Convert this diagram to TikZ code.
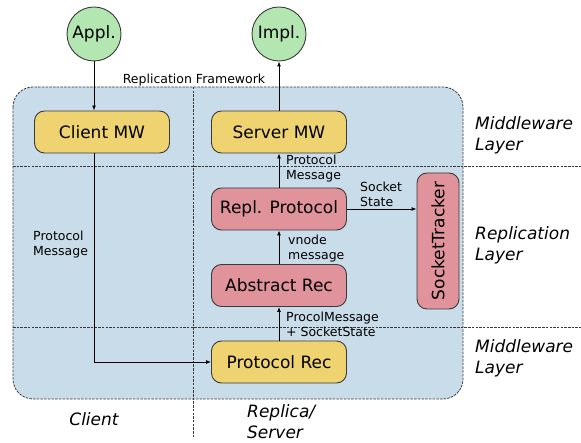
\documentclass[tikz,border=0pt]{standalone}
\usepackage{fontspec}
\setmainfont{DejaVu Sans}
\usetikzlibrary{arrows.meta}
\definecolor{frameblue}{HTML}{C9DCE9}
\definecolor{mwyellow}{HTML}{EED370}
\definecolor{replpink}{HTML}{E0939B}
\definecolor{appgreen}{HTML}{B3E6B1}
\definecolor{edgegray}{HTML}{3A3A3A}
\tikzset{
  mainfont/.style={font=\fontsize{17}{20}\selectfont},
  smallfont/.style={font=\fontsize{12.5}{15}\selectfont},
  layerfont/.style={font=\fontsize{17}{21}\selectfont\itshape},
  box/.style={draw=edgegray, line width=0.9pt, rounded corners=10pt,
    minimum width=135pt, minimum height=42pt, inner sep=0pt, mainfont},
  mwbox/.style={box, fill=mwyellow},
  rpbox/.style={box, fill=replpink},
  endpoint/.style={circle, draw=edgegray, line width=0.9pt, fill=appgreen,
    minimum size=54pt, inner sep=0pt, mainfont},
  divider/.style={draw=edgegray, line width=0.8pt, dash pattern=on 2.5pt off 1.2pt},
  arr/.style={draw=black, line width=0.9pt, -{Latex[length=5pt,width=4pt]}},
  note/.style={smallfont, align=left, inner sep=0pt, anchor=north west},
  layer/.style={layerfont, align=left, inner sep=0pt, anchor=north west},
}
\begin{document}
\begin{tikzpicture}[x=1pt,y=-1pt]
\useasboundingbox (0,0) rectangle (581,443);

% framework area and layer/side dividers
\path[divider, fill=frameblue, rounded corners=20pt] (13,87) rectangle (463,399);
\path[divider] (13,166) -- (581,166);
\path[divider] (13,327) -- (581,327);
\path[divider] (193,87) -- (193,438);

\node[smallfont, anchor=base, inner sep=0pt] (fw) at (194,84) {Replication Framework};

% application endpoints
\node[endpoint] (appl) at (94,34) {Appl.};
\node[endpoint] (impl) at (279,34) {Impl.};

% components
\node[mwbox] (cmw) at (102,132) {Client MW};
\node[mwbox] (smw) at (279,132) {Server MW};
\node[rpbox] (rp) at (279,209) {Repl. Protocol};
\node[rpbox] (ar) at (279,285.5) {Abstract Rec};
\node[mwbox] (pr) at (279,362) {Protocol Rec};
\node[box, fill=replpink, minimum width=42pt, minimum height=136pt,
  label={[mainfont, rotate=90]center:SocketTracker}] (st) at (438,241) {};

% message flow
\draw[arr] (appl.south) -- (appl.south |- cmw.north);
\draw[arr] (appl.south |- cmw.south) |- (pr.west);
\draw[arr] (pr.north) -- (ar.south);
\draw[arr] (ar.north) -- (rp.south);
\draw[arr] (rp.north) -- (smw.south);
\draw[arr] (smw.north) -- (impl.south);
\draw[arr] (rp.east) -- (st.west |- rp.east);

% connector labels
\node[note] (lpm) at (33,231) {Protocol\\Message};
\node[note] (lsm) at (286,155) {Protocol\\Message};
\node[note] (lvn) at (288,235) {vnode\\message};
\node[note] (lps) at (286,312) {ProcolMessage\\+ SocketState};
\node[note] (lss) at (360,182) {Socket\\State};

% layer and side captions
\node[layer] (ly1) at (475,116) {Middleware\\Layer};
\node[layer] (ly2) at (475,226) {Replication\\Layer};
\node[layer] (ly3) at (475,339) {Middleware\\Layer};
\node[layerfont, anchor=north, inner sep=0pt] (cl) at (94,412) {Client};
\node[layer] (rs) at (247,404) {Replica/\\Server};
\end{tikzpicture}
\end{document}
